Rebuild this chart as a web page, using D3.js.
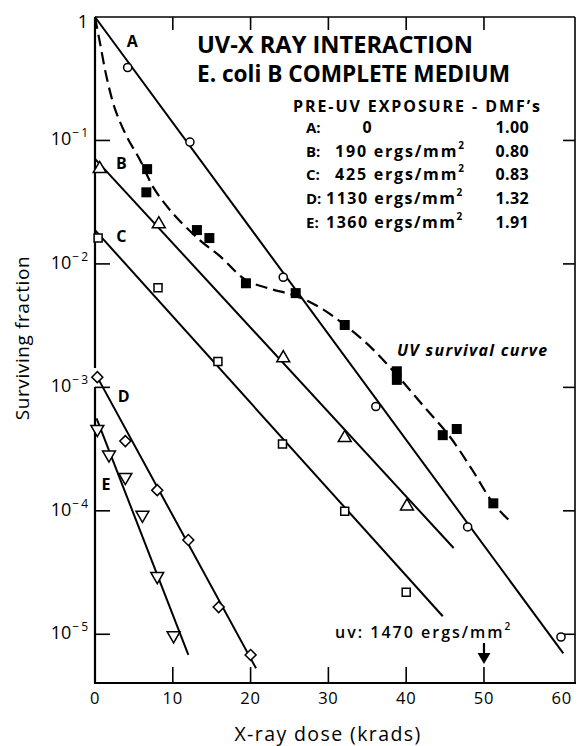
<!DOCTYPE html>
<html>
<head>
<meta charset="utf-8">
<script src="https://cdn.jsdelivr.net/npm/d3@7"></script>
<style>
  html, body { margin: 0; padding: 0; background: #fff; }
  svg { display: block; font-family: "Open Sans", "DejaVu Sans", sans-serif; }
</style>
</head>
<body>
<svg id="chart" width="582" height="746"></svg>
<script>
// X-ray dose ticks (krads) and surviving-fraction decades
const doseTicks = [0, 10, 20, 30, 40, 50, 60];
const fracTicks = [1, 1e-1, 1e-2, 1e-3, 1e-4, 1e-5];

// A: no pre-UV exposure (open circles)
const doseA = [4.2, 12.2, 24.2, 36.1, 47.9, 59.9];
const fracA = [0.39, 0.097, 0.0078, 7.0e-4, 7.4e-5, 9.5e-6];
const fitA = [[0, 1], [60.2, 7.0e-6]];

// B: 190 ergs/mm² (open triangles)
const doseB = [0.6, 8.2, 24.2, 32.1, 40.1];
const fracB = [0.060, 0.0214, 1.76e-3, 3.97e-4, 1.11e-4];
const fitB = [[0, 0.071], [46.1, 5.0e-5]];

// C: 425 ergs/mm² (open squares)
const doseC = [0.4, 8.1, 15.8, 24.1, 32.1, 40.0];
const fracC = [0.0162, 6.4e-3, 1.62e-3, 3.47e-4, 9.9e-5, 2.19e-5];
const fitC = [[0, 0.0188], [44.7, 1.4e-5]];

// D: 1130 ergs/mm² (open diamonds)
const doseD = [0.3, 3.9, 8.0, 12.0, 15.9, 20.0];
const fracD = [1.21e-3, 3.67e-4, 1.47e-4, 5.8e-5, 1.66e-5, 6.8e-6];
const fitD = [[0.3, 1.21e-3], [20.7, 5.3e-6]];

// E: 1360 ergs/mm² (open inverted triangles)
const doseE = [0.3, 1.8, 3.9, 6.1, 8.0, 10.1];
const fracE = [4.5e-4, 2.8e-4, 1.84e-4, 9.1e-5, 2.9e-5, 9.6e-6];
const fitE = [[0.2, 5.6e-4], [12.0, 6.8e-6]];

// UV survival curve (filled squares; UV dose expressed on the same axis)
const doseUV = [6.7, 6.6, 13.1, 14.7, 19.4, 25.8, 32.1, 38.8, 38.8, 44.7, 46.5, 51.2];
const fracUV = [0.0586, 0.038, 0.0188, 0.0162, 6.97e-3, 5.8e-3, 3.2e-3, 1.35e-3, 1.15e-3, 4.1e-4, 4.6e-4, 1.15e-4];
const curveUVDose = [0, 0.64, 1.5, 2.6, 4.1, 5.8, 7.5, 10.0, 13.5, 16.1, 19.4, 22.5, 25.8, 29.0, 32.1, 35.5, 38.8, 42.2, 45.6, 48.5, 51.2, 53.3];
const curveUVFrac = [1, 0.617, 0.324, 0.178, 0.107, 0.0692, 0.0417, 0.0257, 0.0155, 0.0115, 0.0074, 0.0063, 0.0055, 0.0044, 0.0032, 0.0021, 0.00126, 7.1e-4, 4.0e-4, 2.14e-4, 1.15e-4, 8.3e-5];

const legendRows = [
  { key: "A:", dose: "0", dmf: "1.00" },
  { key: "B:", dose: "190", dmf: "0.80" },
  { key: "C:", dose: "425", dmf: "0.83" },
  { key: "D:", dose: "1130", dmf: "1.32" },
  { key: "E:", dose: "1360", dmf: "1.91" }
];

const svg = d3.select("#chart");
const L = 95, R = 575, T = 17, B = 683;

const x = d3.scaleLinear().domain([0, 61.7]).range([L, R]);
const y = d3.scaleLog().domain([4.03e-6, 1]).range([B, T]);

// frame; the left edge is interrupted beside the D start point
const frame = svg.append("g").attr("stroke", "#000").attr("fill", "none");
frame.append("line").attr("x1", L).attr("x2", R).attr("y1", T).attr("y2", T).attr("stroke-width", 1.3);
frame.append("line").attr("x1", R).attr("x2", R).attr("y1", T).attr("y2", B).attr("stroke-width", 1.6);
frame.append("line").attr("x1", L - 1).attr("x2", R + 1).attr("y1", B).attr("y2", B).attr("stroke-width", 2.2);
frame.append("line").attr("x1", L).attr("x2", L).attr("y1", T).attr("y2", 368).attr("stroke-width", 2.2);
frame.append("line").attr("x1", L).attr("x2", L).attr("y1", 387).attr("y2", B).attr("stroke-width", 2.2);

// inward ticks on all four sides
const tickG = svg.append("g").attr("stroke", "#000").attr("stroke-width", 1.6);
doseTicks.filter(d => d > 0 && d < 60).forEach(d => {
  tickG.append("line").attr("x1", x(d)).attr("x2", x(d)).attr("y1", B).attr("y2", B - 16);
  tickG.append("line").attr("x1", x(d)).attr("x2", x(d)).attr("y1", T).attr("y2", T + 13);
});
fracTicks.filter(v => v < 1).forEach(v => {
  tickG.append("line").attr("x1", L).attr("x2", L + 15).attr("y1", y(v)).attr("y2", y(v));
  tickG.append("line").attr("x1", R).attr("x2", R - 12).attr("y1", y(v)).attr("y2", y(v));
});

// x tick labels
svg.append("g").selectAll("text").data(doseTicks).join("text")
  .attr("x", d => x(d)).attr("y", 704)
  .attr("text-anchor", "middle").attr("font-size", 16.5).attr("letter-spacing", 0.8)
  .text(d => d);

// y tick labels: 1, 10^-1 ... 10^-5
const yl = svg.append("g").attr("font-size", 18);
fracTicks.forEach(v => {
  const e = Math.round(Math.log10(v));
  if (e === 0) {
    yl.append("text").attr("x", 88).attr("y", y(v) + 11).attr("text-anchor", "end").text("1");
  } else {
    const t = yl.append("text").attr("x", 88).attr("y", y(v) + 5).attr("text-anchor", "end");
    t.append("tspan").text("10");
    t.append("tspan").attr("font-size", 12).attr("dy", -8).attr("dx", 1).text("\u2212" + "\u2009" + (-e));
  }
});

// axis titles
svg.append("text").attr("x", 328).attr("y", 741).attr("text-anchor", "middle")
  .attr("font-size", 19.5).attr("letter-spacing", 1.4).text("X-ray dose (krads)");
svg.append("text").attr("transform", "translate(29,338) rotate(-90)").attr("text-anchor", "middle")
  .attr("font-size", 19).attr("letter-spacing", 0.6).text("Surviving fraction");

// fitted survival lines
const line = d3.line().x(d => x(d[0])).y(d => y(d[1]));
const fits = [fitA, fitB, fitC, fitD, fitE];
svg.append("g").selectAll("path").data(fits).join("path")
  .attr("d", line).attr("fill", "none").attr("stroke", "#000").attr("stroke-width", 2);

// UV survival curve (dashed)
const uvCurve = curveUVDose.map((d, i) => [d, curveUVFrac[i]]);
svg.append("path").datum(uvCurve)
  .attr("d", d3.line().x(d => x(d[0])).y(d => y(d[1])).curve(d3.curveCatmullRom.alpha(0.5)))
  .attr("fill", "none").attr("stroke", "#000").attr("stroke-width", 2.2)
  .attr("stroke-dasharray", "12,6");

// markers
const pts = (ds, fs) => ds.map((d, i) => [d, fs[i]]);
const mk = svg.append("g").attr("stroke", "#000").attr("stroke-width", 1.5).attr("fill", "#fff");
const symbols = [
  { data: pts(doseA, fracA), type: d3.symbolCircle, size: 52, rot: 0 },
  { data: pts(doseB, fracB), type: d3.symbolTriangle, size: 72, rot: 0, dy: 1 },
  { data: pts(doseC, fracC), type: d3.symbolSquare, size: 64, rot: 0 },
  { data: pts(doseD, fracD), type: d3.symbolSquare, size: 60, rot: 45 },
  { data: pts(doseE, fracE), type: d3.symbolTriangle, size: 72, rot: 180, dy: -1 }
];
symbols.forEach(s => {
  mk.append("g").selectAll("path").data(s.data).join("path")
    .attr("d", d3.symbol().type(s.type).size(s.size))
    .attr("transform", d => `translate(${x(d[0])},${y(d[1]) + (s.dy || 0)}) rotate(${s.rot})`);
});
svg.append("g").selectAll("rect").data(pts(doseUV, fracUV)).join("rect")
  .attr("x", d => x(d[0]) - 5).attr("y", d => y(d[1]) - 5)
  .attr("width", 10).attr("height", 10).attr("fill", "#000");

// curve letters
const letters = [
  { t: "A", d: 4.8, f: 0.571 }, { t: "B", d: 3.4, f: 0.0587 }, { t: "C", d: 3.4, f: 0.0150 },
  { t: "D", d: 3.7, f: 7.6e-4 }, { t: "E", d: 1.4, f: 1.48e-4 }
];
svg.append("g").attr("font-size", 16).attr("font-weight", 700)
  .selectAll("text").data(letters).join("text")
  .attr("x", d => x(d.d)).attr("y", d => y(d.f)).attr("text-anchor", "middle").text(d => d.t);

// title block
const tb = svg.append("g").attr("font-weight", 700);
tb.append("text").attr("x", 197).attr("y", 53).attr("font-size", 23).attr("textLength", 276).attr("lengthAdjust", "spacingAndGlyphs").text("UV-X RAY INTERACTION");
tb.append("text").attr("x", 197).attr("y", 82).attr("font-size", 23).attr("textLength", 313).attr("lengthAdjust", "spacingAndGlyphs").text("E. coli B COMPLETE MEDIUM");
tb.append("text").attr("x", 293).attr("y", 112).attr("font-size", 16).attr("textLength", 247).text("PRE-UV EXPOSURE - DMF\u2019s");
legendRows.forEach((r, i) => {
  const yy = 133 + i * 23.7;
  const g = tb.append("g").attr("font-size", 16);
  g.append("text").attr("x", 306).attr("y", yy).attr("font-size", 15).text(r.key);
  if (r.dose === "0") {
    g.append("text").attr("x", 367).attr("y", yy).attr("text-anchor", "middle").text("0");
  } else {
    const four = r.dose.length === 4;
    const t = g.append("text").attr("x", four ? 326 : 335).attr("y", yy).attr("letter-spacing", four ? 1.5 : 1.8);
    t.append("tspan").text(r.dose + " ergs/mm");
    t.append("tspan").attr("font-size", 10).attr("dy", -8).text("2");
  }
  g.append("text").attr("x", 529).attr("y", yy).attr("text-anchor", "end").attr("letter-spacing", 0.4).text(r.dmf);
});

// curve annotation
svg.append("text").attr("x", 397).attr("y", 356).attr("font-size", 16).attr("font-weight", 700)
  .attr("font-style", "italic").attr("letter-spacing", 1.3).text("UV survival curve");

// UV dose marker on the x axis
const uvT = svg.append("text").attr("x", 335).attr("y", 638).attr("font-size", 16)
  .attr("font-weight", 600).attr("letter-spacing", 2);
uvT.append("tspan").text("uv: 1470 ergs/mm");
uvT.append("tspan").attr("font-size", 10).attr("dy", -8).text("2");
svg.append("line").attr("x1", x(50)).attr("x2", x(50)).attr("y1", 643).attr("y2", 656)
  .attr("stroke", "#000").attr("stroke-width", 2.2);
svg.append("path")
  .attr("d", `M${x(50) - 6.5},653 L${x(50) + 6.5},653 L${x(50)},664 Z`).attr("fill", "#000");
</script>
</body>
</html>
